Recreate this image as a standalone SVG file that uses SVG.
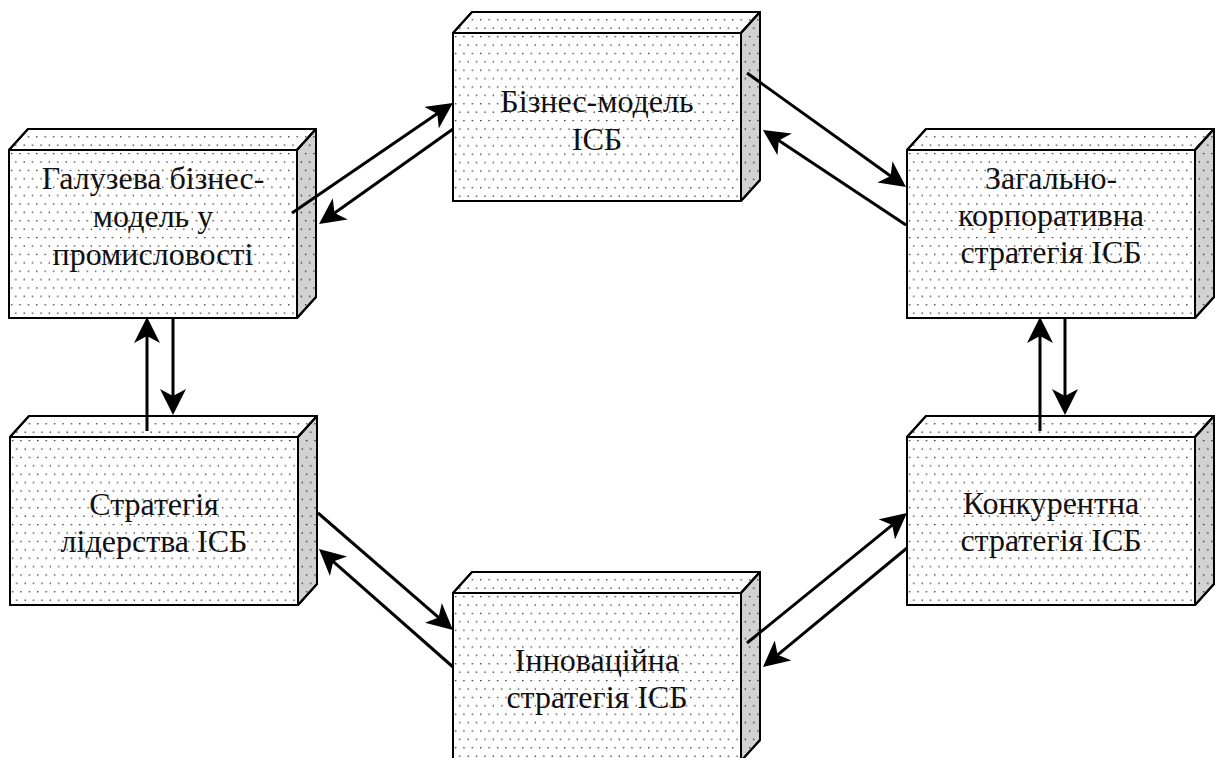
<svg xmlns="http://www.w3.org/2000/svg" width="1215" height="758" viewBox="0 0 1215 758">
  <defs>
    <pattern id="dots" patternUnits="userSpaceOnUse" width="8.4" height="16.8">
      <rect x="2" y="3" width="1.2" height="1.2" fill="#000"/>
      <rect x="6.2" y="11.4" width="1.2" height="1.2" fill="#000"/>
    </pattern>
    <marker id="ah" viewBox="0 -13 26 26" refX="16" refY="0" markerWidth="26" markerHeight="26" markerUnits="userSpaceOnUse" orient="auto">
      <path d="M26,0 L0,-13 L7,0 L0,13 Z" fill="#000"/>
    </marker>
    <g id="box">
      <path class="top" d="M0,0 L19,-21 L307,-21 L288,0 Z"/>
      <path class="top dot" d="M0,0 L19,-21 L307,-21 L288,0 Z"/>
      <path class="side" d="M288,0 L307,-21 L307,147 L288,168 Z"/>
      <path class="side dot" d="M288,0 L307,-21 L307,147 L288,168 Z"/>
      <rect class="front" x="0" y="0" width="288" height="168"/>
      <rect class="front dot" x="0" y="0" width="288" height="168"/>
    </g>
  </defs>
  <style>
    .top, .front { fill: #fff; stroke: #000; stroke-width: 2; stroke-linejoin: round; }
    .side { fill: #d2d2d2; stroke: #000; stroke-width: 2; stroke-linejoin: round; }
    .dot { fill: url(#dots); stroke: #000; stroke-width: 2; }
    .lbl { font-family: "Liberation Serif", "Times New Roman", serif; font-size: 32px; fill: #111; text-anchor: middle; }
    .conn line { stroke: #000; stroke-width: 3; marker-end: url(#ah); }
  </style>
  <rect x="0" y="0" width="1215" height="758" fill="#fff"/>

  <g id="node-galuzeva">
    <use href="#box" x="9" y="150"/>
    <text class="lbl" x="153" y="189">Галузева бізнес-</text>
    <text class="lbl" x="153" y="227">модель у</text>
    <text class="lbl" x="153" y="265">промисловості</text>
  </g>
  <g id="node-biznes-model">
    <use href="#box" x="453" y="33"/>
    <text class="lbl" x="597" y="112">Бізнес-модель</text>
    <text class="lbl" x="597" y="150">ІСБ</text>
  </g>
  <g id="node-zagalno">
    <use href="#box" x="907" y="150"/>
    <text class="lbl" x="1051" y="189">Загально-</text>
    <text class="lbl" x="1051" y="226">корпоративна</text>
    <text class="lbl" x="1051" y="263">стратегія ІСБ</text>
  </g>
  <g id="node-liderstva">
    <use href="#box" x="10" y="437"/>
    <text class="lbl" x="154" y="515">Стратегія</text>
    <text class="lbl" x="154" y="552">лідерства ІСБ</text>
  </g>
  <g id="node-konkurentna">
    <use href="#box" x="907" y="437"/>
    <text class="lbl" x="1051" y="514">Конкурентна</text>
    <text class="lbl" x="1051" y="551">стратегія ІСБ</text>
  </g>
  <g id="node-innovatsiina">
    <use href="#box" x="453" y="593"/>
    <text class="lbl" x="597" y="671">Інноваційна</text>
    <text class="lbl" x="597" y="708">стратегія ІСБ</text>
  </g>

  <g id="connectors" class="conn">
    <line x1="292" y1="213" x2="444.7" y2="108.6"/>
    <line x1="453" y1="129" x2="327.2" y2="218.2"/>
    <line x1="747" y1="73" x2="897.9" y2="181.2"/>
    <line x1="906" y1="225" x2="771.3" y2="135.5"/>
    <line x1="147" y1="431" x2="147" y2="327"/>
    <line x1="173" y1="318" x2="173" y2="405"/>
    <line x1="1040" y1="431" x2="1040" y2="327"/>
    <line x1="1065" y1="318" x2="1065" y2="405"/>
    <line x1="318" y1="513" x2="445.4" y2="623.4"/>
    <line x1="453" y1="667" x2="326.5" y2="555.6"/>
    <line x1="747" y1="643" x2="899.2" y2="519.3"/>
    <line x1="907" y1="548" x2="770.7" y2="660.6"/>
  </g>
</svg>
